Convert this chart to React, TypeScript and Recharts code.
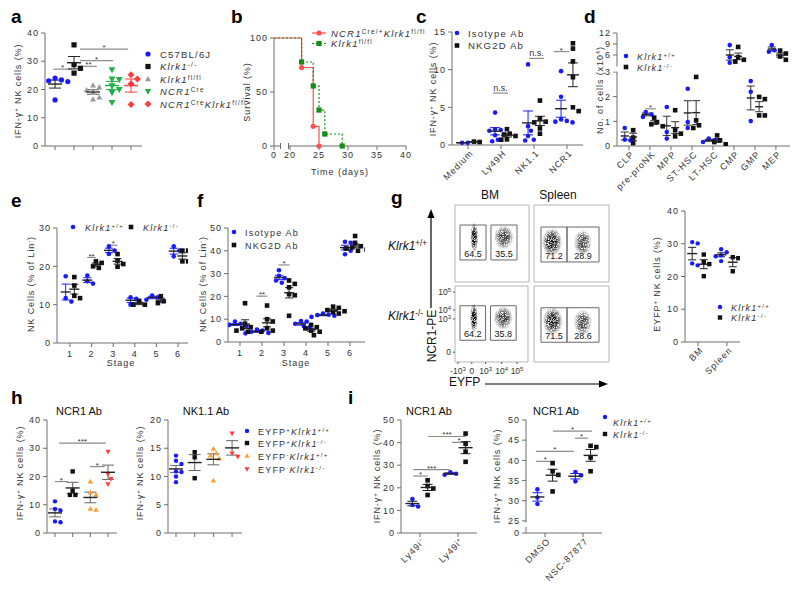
import React from 'react';
import { ScatterChart, Scatter, XAxis, YAxis, ErrorBar, ReferenceLine, ReferenceArea, LineChart, Line } from 'recharts';

const FONT = '"Liberation Sans", Arial, Helvetica, sans-serif';
const AX = '#6e6e6e';
const TXT = '#333';
const BLUE = '#1a1aff';
const BLACK = '#111';
const GRAY = '#9a9a9a';
const GREEN = '#22b04a';
const RED = '#ff3d3d';
const ORANGE = '#ff9a2e';
const BRED = '#ff4f4f';
const BGREEN = '#168c16';

// ---------------- data ----------------
// a: IFN-g+ NK cells (%)
const aC57 = [24.0, 23.1, 22.8, 23.4, 16.3];
const aKlrk1KO = [35.8, 28.8, 27.5, 25.8];
const aKlrk1Fl = [21.5, 20.8, 19.8, 18.8, 17.2, 16.5];
const aNcr1Cre = [27.0, 23.7, 23.5, 21.3, 20.0, 18.9, 15.4];
const aNcr1CreKlrk1 = [25.2, 23.7, 22.0, 14.7];
const aSigs = [
  { a: 0.9, b: 1.9, y: 27.2, t: '*' },
  { a: 2.32, b: 3.2, y: 28.2, t: '**' },
  { a: 2.32, b: 4.05, y: 30.2, t: '*' },
  { a: 2.32, b: 4.85, y: 34.3, t: '*' },
];

// b: survival
const bTicks = [0, 20, 25, 30, 35, 40];
const bRedTimes = [0, 22, 24, 25];
const bRedSurv = [100, 72.7, 18.2, 0];
const bGreenTimes = [0, 22, 24, 25, 26, 29];
const bGreenSurv = [100, 77.8, 55.6, 33.3, 11.1, 0];

// c
const cCats = ['Medium', 'Ly49H', 'NK1.1', 'NCR1'];
const cIsotype = [[0.3, 0.3], [4.3, 2.1, 2.0, 1.9, 1.3, 0.7, 0.5], [10.7, 2.5, 1.9, 1.2, 0.7, 0.6], [9.8, 6.4, 3.4, 3.2, 3.1, 3.0]];
const cNkg2d = [[0.4, 0.45], [2.1, 1.5, 1.4, 1.2, 0.7, 0.75], [5.9, 3.5, 3.1, 3.0, 2.2, 1.5], [13.5, 12.8, 11.1, 9.0, 5.0, 4.5]];
const cSigs = [
  { a: 1.76, b: 2.21, y: 6.9, t: 'n.s.' },
  { a: 2.85, b: 3.3, y: 11.5, t: 'n.s.' },
  { a: 3.6, b: 4.06, y: 12.4, t: '*' },
];

// d
const dCats = ['CLP', 'pre-proNK', 'MPP', 'ST-HSC', 'LT-HSC', 'CMP', 'GMP', 'MEP'];
const dWT = [[0.73, 0.23, 0.26], [1.38, 1.28, 1.18], [1.58, 0.57, 0.3], [2.32, 0.97, 0.73], [0.3, 0.23, 0.16], [8.7, 5.4, 3.9], [2.63, 2.2, 1.01], [8.7, 7.3, 6.9]];
const dKO = [[0.64, 0.34, 0.12], [1.15, 0.97, 0.88, 0.8], [1.45, 0.64, 0.5, 0.39], [2.8, 1.04, 0.84, 0.73], [0.43, 0.23, 0.16, 0.07], [8.2, 5.4, 4.7, 4.2], [1.99, 1.9, 1.24, 1.24], [7.2, 6.4, 5.6, 4.7]];
const dTickVals = [0, 1, 2, 3, 6, 9, 12];
const dSigs = [{ a: 1.78, b: 2.28, y: 1.51, t: '*' }];

// e
const stages = ['1', '2', '3', '4', '5', '6'];
const eWT = [[17.4, 11.7, 10.8], [17.6, 16.1, 15.5], [25.2, 24.1, 23.2], [11.9, 11.5, 10.0], [12.4, 11.9, 11.3], [25.2, 24.1, 22.6]];
const eKO = [[17.2, 15.0, 11.7, 12.3], [21.3, 20.9, 20.0, 19.6], [23.2, 21.5, 20.6, 19.9], [11.0, 10.0, 10.0], [12.2, 10.9, 10.4], [24.1, 24.1, 21.3, 21.3]];
const eSigs = [
  { a: 1.8, b: 2.2, y: 22.3, t: '**' },
  { a: 2.8, b: 3.2, y: 25.5, t: '*' },
];

// f
const fIso = [[8.0, 7.0, 9.0, 7.5, 6.8], [5.0, 4.0, 4.5, 5.5, 3.8], [31.5, 29.0, 28.0, 26.0, 27.0], [9.0, 9.2, 7.0, 6.5, 8.0], [12.0, 11.5, 11.0, 12.5, 11.8], [44.0, 43.5, 40.0, 38.5, 41.0]];
const fAb = [[17.0, 8.0, 6.0, 5.0, 4.5, 6.5], [16.0, 10.0, 9.0, 6.0, 5.0, 4.5], [27.0, 25.5, 24.0, 21.0, 20.5, 11.5], [7.5, 6.5, 5.0, 3.0, 6.0, 4.5], [15.5, 14.0, 13.5, 13.0, 12.5, 15.0], [46.5, 43.5, 41.5, 40.5, 41.0, 42.0, 40.0]];
const fSigs = [
  { a: 1.75, b: 2.25, y: 20.1, t: '**' },
  { a: 2.75, b: 3.25, y: 33.8, t: '*' },
];

// g flow
const flowGatesBM = [[6.8, 41.9, 28.6, 74], [48.6, 83.8, 28.6, 74]];
const flowGatesSp = [[9.3, 44, 26, 71.4], [44, 86.7, 26, 71.4]];
const flowWTBM = [{ x: 26, y: 58, sx: 4, sy: 15, n: 64.5 }, { x: 66, y: 58, sx: 10, sy: 12, n: 35.5 }];
const flowWTSp = [{ x: 24, y: 52, sx: 10, sy: 14, n: 71.2 }, { x: 65, y: 51, sx: 9, sy: 13, n: 28.9 }];
const flowKOBM = [{ x: 26, y: 58, sx: 4, sy: 15, n: 64.2 }, { x: 66, y: 58, sx: 10, sy: 12, n: 35.8 }];
const flowKOSp = [{ x: 25, y: 54, sx: 10, sy: 14, n: 71.5 }, { x: 65, y: 52, sx: 9, sy: 13, n: 28.6 }];
const flowXTicks = [4, 23, 42, 64, 85];
const flowXLabels = ['-10|3', '0', '10|3', '10|4', '10|5'];
const flowYTicks = [13, 56.6, 68.4, 92];
const flowYLabels = ['0', '10|3', '10|4', '10|5'];

// g right
const gCats = ['BM', 'Spleen'];
const gWT = [[30.1, 30.5, 23.4, 24.0], [28.3, 27.4, 26.2, 26.5, 24.7]];
const gKO = [[26.7, 24.4, 23.8, 20.1], [25.9, 25.6, 21.6]];

// h
const hLeftBlue = [11.2, 8.5, 8.0, 3.8, 4.1];
const hLeftBlack = [21.8, 15.0, 13.5, 13.5];
const hLeftOrange = [18.2, 14.4, 13.5, 8.2, 8.6];
const hLeftRed = [28.8, 20.8, 19.1, 17.3];
const hRightBlue = [13.7, 12.8, 12.2, 10.9, 10.8, 10.0, 9.0];
const hRightBlack = [14.3, 13.4, 9.7];
const hRightOrange = [14.9, 14.1, 13.7, 13.2, 9.3];
const hRightRed = [17.6, 14.1, 13.5];
const hSigs = [
  { a: 1.0, b: 1.73, y: 18.2, t: '*' },
  { a: 2.98, b: 3.82, y: 23.5, t: '*' },
  { a: 1.23, b: 3.88, y: 31.8, t: '***' },
];

// i
const iLeftCats = ['Ly49i\u207B', 'Ly49i\u207A'];
const iLeftWT = [[15.0, 11.7, 12.4], [26.9, 25.8, 26.2]];
const iLeftKO = [[23.3, 20.8, 19.7, 16.8], [44.0, 39.5, 36.0, 31.5]];
const iLeftSigs = [
  { a: 0.82, b: 1.21, y: 25.2, t: '*' },
  { a: 0.82, b: 1.79, y: 28.0, t: '***' },
  { a: 1.21, b: 2.21, y: 42.7, t: '***' },
  { a: 1.84, b: 2.21, y: 40.1, t: '*' },
];
const iRightCats = ['DMSO', 'NSC-87877'];
const iRightWT = [[32.8, 30.8, 29.2], [37.1, 36.3, 34.8]];
const iRightKO = [[39.3, 37.3, 36.4, 32.3], [43.3, 43.6, 40.7, 37.3]];
const iRightSigs = [
  { a: 0.76, b: 1.26, y: 39.75, t: '*' },
  { a: 0.76, b: 1.76, y: 42.25, t: '*' },
  { a: 1.79, b: 2.13, y: 45.5, t: '*' },
  { a: 1.21, b: 2.24, y: 47.25, t: '*' },
];

// ---------------- helpers ----------------
type Shape = 'circle' | 'square' | 'tri' | 'itri' | 'diamond';

function mean(a: number[]) { return a.reduce((s, v) => s + v, 0) / a.length; }
function sem(a: number[]) {
  const m = mean(a);
  return Math.sqrt(a.reduce((s, v) => s + (v - m) * (v - m), 0) / (a.length - 1)) / Math.sqrt(a.length);
}

function swarm(ys: number[], pxPerY: number, d: number): number[] {
  const order = ys.map((_, i) => i).sort((a, b) => ys[b] - ys[a]);
  const placed: { dx: number; py: number }[] = [];
  const out = ys.map(() => 0);
  for (const i of order) {
    const py = ys[i] * pxPerY;
    for (let k = 0; k < 30; k++) {
      const dx = (k % 2 === 1 ? 1 : -1) * Math.ceil(k / 2) * d * 0.55;
      if (placed.every((q) => Math.hypot(q.dx - dx, q.py - py) >= d)) {
        placed.push({ dx, py });
        out[i] = dx;
        break;
      }
    }
  }
  return out;
}

function Mark({ shape, cx, cy, r, color }: { shape: Shape; cx: number; cy: number; r: number; color: string }) {
  switch (shape) {
    case 'square':
      return <rect x={cx - r} y={cy - r} width={2 * r} height={2 * r} fill={color} />;
    case 'tri':
      return <polygon points={`${cx},${cy - r * 1.2} ${cx - r * 1.15},${cy + r * 0.85} ${cx + r * 1.15},${cy + r * 0.85}`} fill={color} />;
    case 'itri':
      return <polygon points={`${cx},${cy + r * 1.2} ${cx - r * 1.15},${cy - r * 0.85} ${cx + r * 1.15},${cy - r * 0.85}`} fill={color} />;
    case 'diamond':
      return <polygon points={`${cx},${cy - r * 1.35} ${cx + r * 1.35},${cy} ${cx},${cy + r * 1.35} ${cx - r * 1.35},${cy}`} fill={color} />;
    default:
      return <circle cx={cx} cy={cy} r={r} fill={color} />;
  }
}

const markShape = (shape: Shape, color: string, r: number) => (props: any) => {
  const { cx, cy } = props;
  if (cx == null || cy == null) return <g />;
  return <Mark shape={shape} cx={cx} cy={cy} r={r} color={color} />;
};

const meanShape = (color: string, half: number) => (props: any) => {
  const { cx, cy } = props;
  if (cx == null || cy == null) return <g />;
  return <line x1={cx - half} x2={cx + half} y1={cy} y2={cy} stroke={color} strokeWidth={1.4} />;
};

const TICK = { fontSize: 9, fill: TXT, fontFamily: FONT, letterSpacing: 1 };

interface Series { vals: number[][]; color: string; shape: Shape; off?: number; r?: number; err?: string; mean?: string; }
interface Sig { a: number; b: number; y: number; t: string; }
interface PlotProps {
  x0: number; x1: number; y0: number; y1: number;
  xDom: [number, number]; yDom: [number, number];
  yTicks: number[]; yFmt?: (v: number) => string;
  catLabels?: string[]; rotate?: boolean;
  series: Series[]; sigs?: Sig[]; half?: number; cap?: number;
  tf?: (v: number) => number;
}

function DotPlot(p: PlotProps) {
  const mT = 10, mR = 6, yw = 30, xh = 60;
  const W = yw + p.x1 - p.x0 + mR;
  const H = mT + p.y1 - p.y0 + xh;
  const tf = p.tf ?? ((v: number) => v);
  const pxPerY = (p.y1 - p.y0) / (p.yDom[1] - p.yDom[0]);
  const xPerPx = (p.xDom[1] - p.xDom[0]) / (p.x1 - p.x0);
  const half = p.half ?? 6;
  const nCats = p.series[0].vals.length;
  const ticks = Array.from({ length: nCats }, (_, i) => i + 1);
  const items: React.ReactNode[] = [];
  p.series.forEach((s, si) => {
    const r = s.r ?? 2.3;
    const pts: { x: number; y: number }[] = [];
    const ms: { x: number; y: number; e: [number, number] }[] = [];
    s.vals.forEach((vals, ci) => {
      if (!vals.length) return;
      const c = ci + 1 + (s.off ?? 0);
      const ty = vals.map(tf);
      const dx = swarm(ty, pxPerY, 2 * r + 0.6);
      ty.forEach((y, i) => pts.push({ x: c + dx[i] * xPerPx, y }));
      if (vals.length > 1) {
        const m = mean(vals), se = sem(vals);
        ms.push({ x: c, y: tf(m), e: [tf(m) - tf(m - se), tf(m + se) - tf(m)] });
      }
    });
    items.push(<Scatter key={'p' + si} data={pts} shape={markShape(s.shape, s.color, r)} isAnimationActive={false} />);
    items.push(
      <Scatter key={'m' + si} data={ms} shape={meanShape(s.mean ?? '#222', half)} isAnimationActive={false}>
        <ErrorBar dataKey="e" direction="y" width={p.cap ?? 6} stroke={s.err ?? '#222'} strokeWidth={1} />
      </Scatter>
    );
  });
  const xTick = (props: any) => {
    const { x, y, payload } = props;
    const lab = p.catLabels ? p.catLabels[payload.value - 1] : '';
    if (!lab) return <g />;
    if (p.rotate) {
      return (
        <g transform={`translate(${x + 3},${y}) rotate(-45)`}>
          <text x={0} y={0} dy={4} textAnchor="end" fontSize={9} fill={TXT} fontFamily={FONT} letterSpacing={1}>{lab}</text>
        </g>
      );
    }
    return <text x={x} y={y} dy={8} textAnchor="middle" fontSize={9} fill={TXT} fontFamily={FONT} letterSpacing={1}>{lab}</text>;
  };
  return (
    <div style={{ position: 'absolute', left: p.x0 - yw, top: p.y0 - mT }}>
      <ScatterChart width={W} height={H} margin={{ top: mT, right: mR, left: 0, bottom: 0 }}>
        <XAxis type="number" dataKey="x" domain={p.xDom} ticks={ticks} interval={0} allowDataOverflow height={xh}
          stroke={AX} tickSize={4} tick={xTick} />
        <YAxis type="number" dataKey="y" domain={p.yDom} ticks={p.yTicks} interval={0} allowDataOverflow width={yw}
          stroke={AX} tickSize={4} tick={TICK} tickFormatter={p.yFmt} />
        {(p.sigs ?? []).map((g, i) => (
          <ReferenceLine key={'s' + i} segment={[{ x: g.a, y: tf(g.y) }, { x: g.b, y: tf(g.y) }]} stroke="#8c8c8c" strokeWidth={1.2}
            ifOverflow="visible"
            label={{ value: g.t, position: 'top', fill: '#333', fontSize: g.t === 'n.s.' ? 9 : 8, offset: g.t === 'n.s.' ? 2 : -1, fontFamily: FONT }} />
        ))}
        {items}
      </ScatterChart>
    </div>
  );
}

// broken x-axis mapping for survival plot (0..20 compressed)
const bx = (t: number) => (t < 20 ? 17.24 + t * (2.76 / 20) : t);

function Survival() {
  const x0 = 274, x1 = 406, y0 = 38, y1 = 146, yw = 30, mT = 10, mR = 6, xh = 30;
  const red = bRedTimes.map((t, i) => ({ x: bx(t), y: bRedSurv[i], first: i === 0 }));
  const green = bGreenTimes.map((t, i) => ({ x: bx(t), y: bGreenSurv[i], first: i === 0 }));
  const redDot = (pp: any) => pp.payload.first ? <g key={'rd' + pp.index} /> : <circle key={'rd' + pp.index} cx={pp.cx} cy={pp.cy} r={2.6} fill={BRED} />;
  const greenDot = (pp: any) => pp.payload.first ? <g key={'gd' + pp.index} /> : <rect key={'gd' + pp.index} x={pp.cx - 2.6} y={pp.cy - 2.6} width={5.2} height={5.2} fill={BGREEN} />;
  return (
    <div style={{ position: 'absolute', left: x0 - yw, top: y0 - mT }}>
      <LineChart width={yw + x1 - x0 + mR} height={mT + y1 - y0 + xh} margin={{ top: mT, right: mR, left: 0, bottom: 0 }}>
        <XAxis type="number" dataKey="x" domain={[bx(0), 40]} ticks={bTicks.map(bx)} interval={0} allowDataOverflow
          tickFormatter={(v: number) => (v < 19 ? '0' : String(v))} stroke={AX} tickSize={4} tick={TICK} height={xh} />
        <YAxis type="number" domain={[0, 100]} ticks={[0, 50, 100]} interval={0} width={yw} stroke={AX} tickSize={4} tick={TICK} />
        <Line data={red} dataKey="y" type="stepAfter" stroke={BRED} strokeWidth={1.2} dot={redDot} isAnimationActive={false} />
        <Line data={green} dataKey="y" type="stepAfter" stroke={BGREEN} strokeWidth={1.2} strokeDasharray="2 2" dot={greenDot} isAnimationActive={false} />
      </LineChart>
    </div>
  );
}

interface Cloud { x: number; y: number; sx: number; sy: number; n: number; }

function Flow({ x0, y0, x1, y1, gates, clouds, showX, showY, id }: {
  x0: number; y0: number; x1: number; y1: number; gates: number[][]; clouds: Cloud[]; showX: boolean; showY: boolean; id: string;
}) {
  const yw = 26, xh = 24, mT = 2, mR = 2;
  const kx = (x1 - x0) / 100, ky = (y1 - y0) / 100;
  const fid = `${id}-grain`;
  const cloudShape = (props: any) => {
    const { cx, cy, payload } = props;
    if (cx == null) return <g />;
    const dens = payload.n / (payload.sx * payload.sy);
    const op = Math.min(1, 0.5 + 0.8 * dens);
    const gid = `${id}-${Math.round(cx)}`;
    return (
      <g>
        <defs>
          <radialGradient id={gid}>
            <stop offset="0%" stopColor="#000" stopOpacity={op} />
            <stop offset="40%" stopColor="#000" stopOpacity={op} />
            <stop offset="75%" stopColor="#000" stopOpacity={op * 0.45} />
            <stop offset="100%" stopColor="#000" stopOpacity={0} />
          </radialGradient>
          <filter id={fid} x="-50%" y="-50%" width="200%" height="200%">
            <feTurbulence type="fractalNoise" baseFrequency="1.4" numOctaves={1} seed={5} result="noise" />
            <feColorMatrix in="noise" type="matrix" values="0 0 0 0 0  0 0 0 0 0  0 0 0 0 0  0 0 0 4 -1.25" result="mask" />
            <feComposite in="SourceGraphic" in2="mask" operator="in" />
          </filter>
        </defs>
        <ellipse cx={cx} cy={cy} rx={payload.sx * kx * 1.35} ry={payload.sy * ky * 1.3} fill={`url(#${gid})`} filter={`url(#${fid})`} />
      </g>
    );
  };
  const supTick = (anchor: 'middle' | 'end', labels: string[], ticks: number[], isX: boolean) => (props: any) => {
    const { x, y, payload } = props;
    const idx = ticks.indexOf(payload.value);
    const lab = labels[idx] ?? '';
    const [base, sup] = lab.split('|');
    return (
      <text x={x} y={isX ? y + 8 : y + 3} textAnchor={anchor} fontSize={8.5} fill={TXT} fontFamily={FONT}>
        {base}{sup ? <tspan baselineShift="super" fontSize={6}>{sup}</tspan> : null}
      </text>
    );
  };
  return (
    <div style={{ position: 'absolute', left: x0 - yw, top: y0 - mT }}>
      <ScatterChart width={yw + x1 - x0 + mR} height={mT + y1 - y0 + xh} margin={{ top: mT, right: mR, left: 0, bottom: 0 }}>
        <XAxis type="number" dataKey="x" domain={[0, 100]} ticks={flowXTicks} interval={0} height={xh} axisLine={false}
          tickLine={{ stroke: '#555' }} tickSize={2} tick={showX ? supTick('middle', flowXLabels, flowXTicks, true) : false} />
        <YAxis type="number" dataKey="y" domain={[0, 100]} ticks={flowYTicks} interval={0} width={yw} axisLine={false}
          tickLine={{ stroke: '#555' }} tickSize={2} tick={showY ? supTick('end', flowYLabels, flowYTicks, false) : false} />
        <ReferenceArea x1={0} x2={100} y1={0} y2={100} stroke="#b5b5b5" fill="none" strokeWidth={1} ifOverflow="visible" />
        <Scatter data={clouds} shape={cloudShape} isAnimationActive={false} />
        {gates.map((g, i) => (
          <ReferenceArea key={i} x1={g[0]} x2={g[1]} y1={g[2]} y2={g[3]} stroke="#6a6a6a" strokeWidth={1} fill="none" ifOverflow="visible"
            label={{ value: clouds[i].n.toFixed(1), position: 'insideBottom', offset: 3, fontSize: 9, fill: '#111', fontFamily: FONT }} />
        ))}
      </ScatterChart>
    </div>
  );
}

const Sup = ({ t, fs }: { t: string; fs: number }) => (
  <tspan baselineShift="super" fontSize={fs * 0.68}>{t}</tspan>
);
const Kl = ({ s, fs }: { s: string; fs: number }) => (
  <>
    <tspan fontStyle="italic">Klrk1</tspan>
    <Sup t={s} fs={fs} />
  </>
);

function Overlay() {
  const L = (x: number, y: number, t: string) => (
    <text x={x} y={y} fontSize={19} fontWeight="bold" fill="#000">{t}</text>
  );
  const VL = (x: number, y: number, children: React.ReactNode, fs = 9, ls = 0.9) => (
    <text transform={`translate(${x},${y}) rotate(-90)`} textAnchor="middle" fontSize={fs} letterSpacing={ls} fill={TXT}>{children}</text>
  );
  const LT = (x: number, y: number, children: React.ReactNode, fs = 9.5) => (
    <text x={x} y={y} fontSize={fs} letterSpacing={1.2} fill={TXT}>{children}</text>
  );
  const ifn = <>IFN-γ<Sup t="+" fs={9} /> NK cells (%)</>;
  const nkLin = <>NK Cells (% of Lin<Sup t="-" fs={9} />)</>;
  return (
    <svg width={800} height={597} style={{ position: 'absolute', left: 0, top: 0 }} fontFamily={FONT}>
      {/* axis breaks */}
      <rect x={281} y={143.5} width={7} height={5} fill="#fff" />
      <line x1={280.5} x2={280.5} y1={143} y2={149} stroke={AX} />
      <line x1={288.5} x2={288.5} y1={143} y2={149} stroke={AX} />
      <rect x={613} y={66.5} width={7} height={5} fill="#fff" />
      <rect x={522} y={522.5} width={7} height={4.5} fill="#fff" />

      {L(11, 23, 'a')}{L(231, 23, 'b')}{L(416, 23, 'c')}{L(584, 23, 'd')}
      {L(11, 207, 'e')}{L(197, 207, 'f')}{L(391, 204, 'g')}{L(11, 404, 'h')}{L(348, 404, 'i')}

      {VL(21, 91, ifn)}
      {VL(250, 92, 'Survival (%)')}
      {VL(436, 89, ifn)}
      {VL(603, 90, <>No. of cells (x10<Sup t="4" fs={9} />)</>)}
      {VL(34, 284, nkLin)}
      {VL(206, 284, nkLin)}
      {VL(660, 284, <>EYFP<Sup t="+" fs={9} /> NK cells (%)</>)}
      {VL(23, 473, ifn)}
      {VL(143, 473, ifn)}
      {VL(380, 476, ifn)}
      {VL(500, 476, ifn)}

      <text x={340} y={175} textAnchor="middle" fontSize={9} letterSpacing={1} fill={TXT}>Time (days)</text>
      <text x={121} y={366} textAnchor="middle" fontSize={9} letterSpacing={1} fill={TXT}>Stage</text>
      <text x={296} y={366} textAnchor="middle" fontSize={9} letterSpacing={1} fill={TXT}>Stage</text>

      {/* legend a */}
      <Mark shape="circle" cx={148} cy={54} r={2.6} color={BLUE} />
      {LT(160, 57.5, 'C57BL/6J')}
      <Mark shape="square" cx={148} cy={66.5} r={2.6} color={BLACK} />
      {LT(160, 70, <Kl s="-/-" fs={9.5} />)}
      <Mark shape="tri" cx={148} cy={79} r={2.6} color={GRAY} />
      {LT(160, 82.5, <Kl s="fl/fl" fs={9.5} />)}
      <Mark shape="itri" cx={148} cy={91.5} r={2.8} color={GREEN} />
      {LT(160, 95, <><tspan fontStyle="italic">NCR1</tspan><Sup t="Cre" fs={9.5} /></>)}
      <Mark shape="diamond" cx={148} cy={104} r={2.6} color={RED} />
      {LT(160, 107.5, <><tspan fontStyle="italic">NCR1</tspan><Sup t="Cre" fs={9.5} /><Kl s="fl/fl" fs={9.5} /></>)}

      {/* legend b */}
      <line x1={312} x2={326} y1={33} y2={33} stroke={BRED} strokeWidth={1.2} />
      <circle cx={319} cy={33} r={2.6} fill={BRED} />
      {LT(331, 36.5, <><tspan fontStyle="italic">NCR1</tspan><Sup t="Cre/+" fs={9.5} /><Kl s="fl/fl" fs={9.5} /></>)}
      <line x1={312} x2={326} y1={43.5} y2={43.5} stroke={BGREEN} strokeWidth={1.2} strokeDasharray="2 2" />
      <rect x={316.4} y={40.9} width={5.2} height={5.2} fill={BGREEN} />
      {LT(331, 47, <Kl s="fl/fl" fs={9.5} />)}

      {/* legend c */}
      <Mark shape="circle" cx={457} cy={33} r={2.3} color={BLUE} />
      {LT(468, 36.5, 'Isotype Ab')}
      <Mark shape="square" cx={457} cy={45.5} r={2.3} color={BLACK} />
      {LT(468, 49, 'NKG2D Ab')}

      {/* legend d */}
      <Mark shape="circle" cx={626} cy={56} r={2.3} color={BLUE} />
      {LT(637, 59.5, <Kl s="+/+" fs={9} />, 9)}
      <Mark shape="square" cx={626} cy={67} r={2.3} color={BLACK} />
      {LT(637, 70.5, <Kl s="-/-" fs={9} />, 9)}

      {/* legend e */}
      <Mark shape="circle" cx={73} cy={227} r={2.3} color={BLUE} />
      {LT(85, 230.5, <Kl s="+/+" fs={9} />, 9)}
      <Mark shape="square" cx={131} cy={227} r={2.3} color={BLACK} />
      {LT(143, 230.5, <Kl s="-/-" fs={9} />, 9)}

      {/* legend f */}
      <Mark shape="circle" cx={234} cy={232} r={2.3} color={BLUE} />
      {LT(245, 235.5, 'Isotype Ab', 9)}
      <Mark shape="square" cx={234} cy={245} r={2.3} color={BLACK} />
      {LT(245, 248.5, 'NKG2D Ab', 9)}

      {/* g texts */}
      <text x={490} y={199} textAnchor="middle" fontSize={12} fill="#111">BM</text>
      <text x={558} y={199} textAnchor="middle" fontSize={12} fill="#111">Spleen</text>
      <text x={388} y={250} fontSize={12} fill="#111"><Kl s="+/+" fs={12} /></text>
      <text x={388} y={320} fontSize={12} fill="#111"><Kl s="-/-" fs={12} /></text>
      <line x1={431} x2={431} y1={308} y2={216} stroke="#000" strokeWidth={1.2} />
      <polygon points="431,209 427.5,218 434.5,218" fill="#000" />
      <text transform="translate(435.5,336) rotate(-90)" textAnchor="middle" fontSize={12} fill="#111">NCR1-PE</text>
      <text x={449} y={386} fontSize={12} fill="#111">EYFP</text>
      <line x1={485} x2={600} y1={384} y2={384} stroke="#000" strokeWidth={1.2} />
      <polygon points="608,384 599,380.5 599,387.5" fill="#000" />

      {/* legend g */}
      <Mark shape="circle" cx={720} cy={307} r={2.2} color={BLUE} />
      {LT(731, 310.5, <Kl s="+/+" fs={9} />, 9)}
      <Mark shape="square" cx={720} cy={317.5} r={2.2} color={BLACK} />
      {LT(731, 321, <Kl s="-/-" fs={9} />, 9)}

      {/* h titles and legend */}
      <text x={79} y={415} textAnchor="middle" fontSize={11} fill="#111">NCR1 Ab</text>
      <text x={206} y={415} textAnchor="middle" fontSize={11} fill="#111">NK1.1 Ab</text>
      <Mark shape="circle" cx={247} cy={431} r={2.2} color={BLUE} />
      {LT(258, 434.5, <>EYFP<Sup t="+" fs={9} /><Kl s="+/+" fs={9} /></>, 9)}
      <Mark shape="square" cx={247} cy={443} r={2.2} color={BLACK} />
      {LT(258, 446.5, <>EYFP<Sup t="+" fs={9} /><Kl s="-/-" fs={9} /></>, 9)}
      <Mark shape="tri" cx={247} cy={456} r={2.2} color={ORANGE} />
      {LT(258, 459.5, <>EYFP<Sup t="-" fs={9} /><Kl s="+/+" fs={9} /></>, 9)}
      <Mark shape="itri" cx={247} cy={469} r={2.2} color={RED} />
      {LT(258, 472.5, <>EYFP<Sup t="-" fs={9} /><Kl s="-/-" fs={9} /></>, 9)}

      {/* i titles and legend */}
      <text x={429} y={415} textAnchor="middle" fontSize={11} fill="#111">NCR1 Ab</text>
      <text x={556} y={415} textAnchor="middle" fontSize={11} fill="#111">NCR1 Ab</text>
      <Mark shape="circle" cx={605} cy={417} r={2.2} color={BLUE} />
      {LT(613, 426, <Kl s="+/+" fs={9} />, 9)}
      <Mark shape="square" cx={605} cy={434} r={2.2} color={BLACK} />
      {LT(613, 437.5, <Kl s="-/-" fs={9} />, 9)}
    </svg>
  );
}

const dtf = (v: number) => (v <= 3 ? v : 3.243 + (v - 3) * 0.1486);
const dInv = (t: number) => (t <= 3.01 ? t : (t - 3.243) / 0.1486 + 3);

export default function App() {
  return (
    <div style={{ position: 'absolute', left: 0, top: 0, width: 800, height: 597, background: '#fff', overflow: 'hidden', fontFamily: FONT }}>
      {/* a */}
      <DotPlot x0={45} x1={142} y0={33} y1={146} xDom={[0.47, 5.58]} yDom={[0, 40]} yTicks={[0, 10, 20, 30, 40]}
        half={7} cap={6} sigs={aSigs}
        series={[
          { vals: [aC57, [], [], [], []], color: BLUE, shape: 'circle', r: 2.6 },
          { vals: [[], aKlrk1KO, [], [], []], color: BLACK, shape: 'square', r: 2.6 },
          { vals: [[], [], aKlrk1Fl, [], []], color: GRAY, shape: 'tri', r: 2.6, err: '#555', mean: '#333' },
          { vals: [[], [], [], aNcr1Cre, []], color: GREEN, shape: 'itri', r: 3, err: GREEN, mean: GREEN },
          { vals: [[], [], [], [], aNcr1CreKlrk1], color: RED, shape: 'diamond', r: 2.6, err: RED, mean: RED },
        ]} />
      {/* b */}
      <Survival />
      {/* c */}
      <DotPlot x0={452} x1={583} y0={32} y1={145} xDom={[0.515, 4.485]} yDom={[0, 15]} yTicks={[0, 5, 10, 15]}
        catLabels={cCats} rotate half={6} cap={5} sigs={cSigs}
        series={[
          { vals: cIsotype, color: BLUE, shape: 'circle', off: -0.18, err: BLUE },
          { vals: cNkg2d, color: BLACK, shape: 'square', off: 0.18 },
        ]} />
      {/* d */}
      <DotPlot x0={617} x1={790} y0={33} y1={146} xDom={[0.43, 8.67]} yDom={[0, dtf(12)]} yTicks={dTickVals.map(dtf)}
        yFmt={(v: number) => String(Math.round(dInv(v)))} tf={dtf}
        catLabels={dCats} rotate half={4} cap={4} sigs={dSigs}
        series={[
          { vals: dWT, color: BLUE, shape: 'circle', off: -0.2, err: '#333' },
          { vals: dKO, color: BLACK, shape: 'square', off: 0.2, err: '#333' },
        ]} />
      {/* e */}
      <DotPlot x0={57} x1={188} y0={228} y1={343} xDom={[0.398, 6.46]} yDom={[0, 30]} yTicks={[0, 10, 20, 30]}
        catLabels={stages} half={5} cap={4} sigs={eSigs}
        series={[
          { vals: eWT, color: BLUE, shape: 'circle', off: -0.2, err: BLUE },
          { vals: eKO, color: BLACK, shape: 'square', off: 0.2 },
        ]} />
      {/* f */}
      <DotPlot x0={228} x1={365} y0={228} y1={342} xDom={[0.455, 6.68]} yDom={[0, 50]} yTicks={[0, 10, 20, 30, 40, 50]}
        catLabels={stages} half={5} cap={4} sigs={fSigs}
        series={[
          { vals: fIso, color: BLUE, shape: 'circle', off: -0.23, err: BLUE },
          { vals: fAb, color: BLACK, shape: 'square', off: 0.23 },
        ]} />
      {/* g flow */}
      <Flow id="f1" x0={455} y0={205} x1={529} y1={282} gates={flowGatesBM} clouds={flowWTBM} showX={false} showY={false} />
      <Flow id="f2" x0={534} y0={205} x1={609} y1={282} gates={flowGatesSp} clouds={flowWTSp} showX={false} showY={false} />
      <Flow id="f3" x0={455} y0={286} x1={528} y1={362} gates={flowGatesBM} clouds={flowKOBM} showX={true} showY={true} />
      <Flow id="f4" x0={534} y0={286} x1={609} y1={362} gates={flowGatesSp} clouds={flowKOSp} showX={false} showY={false} />
      {/* g right */}
      <DotPlot x0={685} x1={740} y0={211} y1={342} xDom={[0.552, 2.45]} yDom={[0, 40]} yTicks={[0, 10, 20, 30, 40]}
        catLabels={gCats} rotate half={5} cap={4}
        series={[
          { vals: gWT, color: BLUE, shape: 'circle', off: -0.2, r: 2.2 },
          { vals: gKO, color: BLACK, shape: 'square', off: 0.2, r: 2.2 },
        ]} />
      {/* h left */}
      <DotPlot x0={47} x1={117} y0={420} y1={533} xDom={[0.548, 4.51]} yDom={[0, 40]} yTicks={[0, 10, 20, 30, 40]}
        half={7} cap={6} sigs={hSigs}
        series={[
          { vals: [hLeftBlue, [], [], []], color: BLUE, shape: 'circle', r: 2.2, err: '#666' },
          { vals: [[], hLeftBlack, [], []], color: BLACK, shape: 'square', r: 2.2, err: '#666' },
          { vals: [[], [], hLeftOrange, []], color: ORANGE, shape: 'tri', r: 2.3, err: '#666' },
          { vals: [[], [], [], hLeftRed], color: RED, shape: 'itri', r: 2.3, err: '#666' },
        ]} />
      {/* h right */}
      <DotPlot x0={168} x1={242} y0={420} y1={533} xDom={[0.572, 4.53]} yDom={[0, 20]} yTicks={[0, 5, 10, 15, 20]}
        half={7} cap={6}
        series={[
          { vals: [hRightBlue, [], [], []], color: BLUE, shape: 'circle', r: 2.2, err: '#666' },
          { vals: [[], hRightBlack, [], []], color: BLACK, shape: 'square', r: 2.2, err: '#666' },
          { vals: [[], [], hRightOrange, []], color: ORANGE, shape: 'tri', r: 2.3, err: '#666' },
          { vals: [[], [], [], hRightRed], color: RED, shape: 'itri', r: 2.3, err: '#666' },
        ]} />
      {/* i left */}
      <DotPlot x0={401} x1={477} y0={420} y1={533} xDom={[0.5, 2.5]} yDom={[0, 50]} yTicks={[0, 10, 20, 30, 40, 50]}
        catLabels={iLeftCats} rotate half={7} cap={5} sigs={iLeftSigs}
        series={[
          { vals: iLeftWT, color: BLUE, shape: 'circle', off: -0.2 },
          { vals: iLeftKO, color: BLACK, shape: 'square', off: 0.2 },
        ]} />
      {/* i right */}
      <DotPlot x0={526} x1={602} y0={420} y1={533} xDom={[0.5, 2.5]} yDom={[22, 50]} yTicks={[22, 25, 30, 35, 40, 45, 50]}
        yFmt={(v: number) => (v < 24 ? '0' : String(v))}
        catLabels={iRightCats} rotate half={7} cap={5} sigs={iRightSigs}
        series={[
          { vals: iRightWT, color: BLUE, shape: 'circle', off: -0.2, err: BLUE },
          { vals: iRightKO, color: BLACK, shape: 'square', off: 0.2 },
        ]} />
      <Overlay />
    </div>
  );
}
